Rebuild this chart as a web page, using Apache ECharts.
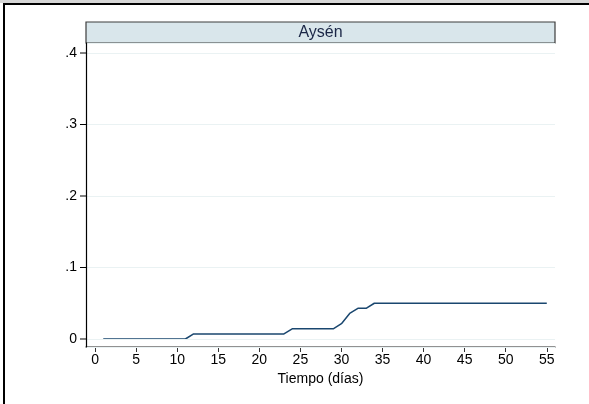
<!DOCTYPE html>
<html>
<head>
<meta charset="utf-8">
<script src="https://cdn.jsdelivr.net/npm/echarts@6/dist/echarts.min.js"></script>
<style>
  html, body { margin: 0; padding: 0; background: #ffffff; }
  #chart { width: 589px; height: 404px; }
</style>
</head>
<body>
<div id="chart"></div>
<script>
// Days since first case and the cumulative share for the region
const panelTitle = 'Aysén';
const days = [1, 2, 3, 4, 5, 6, 7, 8, 9, 10, 11, 12, 13, 14, 15, 16, 17, 18, 19, 20,
  21, 22, 23, 24, 25, 26, 27, 28, 29, 30, 31, 32, 33, 34, 35, 36, 37, 38, 39, 40,
  41, 42, 43, 44, 45, 46, 47, 48, 49, 50, 51, 52, 53, 54, 55];
const share = [0, 0, 0, 0, 0, 0, 0, 0, 0, 0, 0,
  0.0071, 0.0071, 0.0071, 0.0071, 0.0071, 0.0071, 0.0071, 0.0071, 0.0071, 0.0071, 0.0071, 0.0071,
  0.0143, 0.0143, 0.0143, 0.0143, 0.0143, 0.0143,
  0.0214, 0.0357, 0.0429, 0.0429,
  0.05, 0.05, 0.05, 0.05, 0.05, 0.05, 0.05, 0.05, 0.05, 0.05, 0.05, 0.05,
  0.05, 0.05, 0.05, 0.05, 0.05, 0.05, 0.05, 0.05, 0.05, 0.05, 0.05];
const xTicks = [0, 5, 10, 15, 20, 25, 30, 35, 40, 45, 50, 55];
const yTicks = [0, 0.1, 0.2, 0.3, 0.4];
const yTickLabels = ['0', '.1', '.2', '.3', '.4'];
const xTitle = 'Tiempo (días)';

const xMin = -1.1, xMax = 56.0;
const yMin = -0.0112, yMax = 0.414;

const font = 'Liberation Sans, Arial, sans-serif';
const chart = echarts.init(document.getElementById('chart'), null, { renderer: 'canvas' });

const gridLeft = 86, gridRight = 34, gridTop = 43, gridBottom = 57;

chart.setOption({
  animation: false,
  backgroundColor: '#ffffff',
  grid: { left: gridLeft, right: gridRight, top: gridTop, bottom: gridBottom, containLabel: false },
  xAxis: {
    type: 'value',
    min: xMin,
    max: xMax,
    name: xTitle,
    nameLocation: 'middle',
    nameGap: 25,
    nameTextStyle: { fontFamily: font, fontSize: 14, color: '#000' },
    axisLine: { show: true, onZero: false, lineStyle: { color: '#6e6e6e', width: 1.5 } },
    axisTick: { show: true, length: 5, customValues: xTicks, lineStyle: { color: '#333', width: 1 } },
    axisLabel: { customValues: xTicks, fontFamily: font, fontSize: 14, color: '#000', margin: 6 },
    splitLine: { show: false }
  },
  yAxis: {
    type: 'value',
    min: yMin,
    max: yMax,
    z: 5,
    axisLine: { show: true, onZero: false, lineStyle: { color: '#000', width: 1.2 } },
    axisTick: { show: false },
    axisLabel: {
      customValues: yTicks,
      fontFamily: font, fontSize: 14, color: '#000', margin: 0,
      // label text followed by a short outward tick mark
      formatter: function (v) {
        const i = yTicks.findIndex(t => Math.abs(t - v) < 1e-9);
        return i >= 0 ? '{v|' + yTickLabels[i] + '}{gap|}{tick|}' : '';
      },
      rich: {
        v: { fontFamily: font, fontSize: 14, color: '#000' },
        gap: { width: 3, height: 1 },
        tick: { width: 6, height: 1, backgroundColor: '#000' }
      }
    },
    splitLine: { show: true, lineStyle: { color: '#eaf2f3', width: 1 } }
  },
  series: [
    {
      type: 'line',
      data: days.map((d, i) => [d, share[i]]),
      showSymbol: false,
      symbol: 'none',
      lineStyle: { color: '#1a476f', width: 1.5 },
      z: 3
    }
  ],
  graphic: [
    // outer frame
    { type: 'rect', shape: { x: 0, y: 0, width: 589, height: 3 }, style: { fill: '#d6d6d6' }, silent: true },
    { type: 'line', shape: { x1: 3, y1: 4, x2: 589, y2: 4 }, style: { stroke: '#000', lineWidth: 2 }, silent: true },
    { type: 'line', shape: { x1: 4, y1: 3, x2: 4, y2: 404 }, style: { stroke: '#000', lineWidth: 2 }, silent: true },
    // panel title strip
    {
      type: 'rect',
      shape: { x: 86, y: 22, width: 469, height: 21 },
      style: { fill: '#d9e6eb', stroke: '#3c3c3c', lineWidth: 1.2 },
      silent: true
    },
    {
      type: 'text',
      x: 320.5, y: 33,
      style: {
        text: panelTitle, fontFamily: font, fontSize: 16, fill: '#1a2646',
        textAlign: 'center', textVerticalAlign: 'middle'
      },
      silent: true
    }
  ]
});
</script>
</body>
</html>
